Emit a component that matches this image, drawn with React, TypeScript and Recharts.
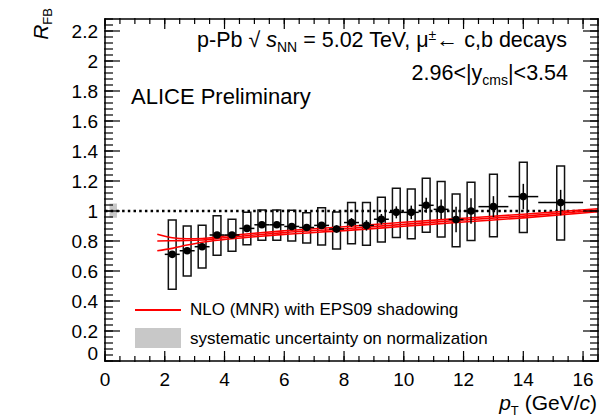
import {
  ComposedChart, ErrorBar, Line, ReferenceArea, ReferenceLine, Scatter, XAxis, YAxis,
} from 'recharts'

const FONT = '"Liberation Sans", Arial, Helvetica, sans-serif'

// measured points: bin centres, half widths, R_FB, stat. error, syst. box edges
const PT = [2.25, 2.75, 3.25, 3.75, 4.25, 4.75, 5.25, 5.75, 6.25, 6.75, 7.25, 7.75, 8.25, 8.75, 9.25, 9.75, 10.25, 10.75, 11.25, 11.75, 12.25, 13, 14, 15.25]
const PT_HALF = [0.25, 0.25, 0.25, 0.25, 0.25, 0.25, 0.25, 0.25, 0.25, 0.25, 0.25, 0.25, 0.25, 0.25, 0.25, 0.25, 0.25, 0.25, 0.25, 0.25, 0.25, 0.5, 0.5, 0.75]
const RFB = [0.711, 0.735, 0.762, 0.84, 0.84, 0.884, 0.908, 0.908, 0.897, 0.89, 0.904, 0.88, 0.923, 0.904, 0.945, 0.991, 0.991, 1.038, 1.011, 0.943, 1.0, 1.029, 1.096, 1.056]
const STAT = [0.01, 0.01, 0.01, 0.01, 0.01, 0.012, 0.012, 0.015, 0.015, 0.02, 0.02, 0.025, 0.03, 0.035, 0.035, 0.04, 0.045, 0.05, 0.065, 0.085, 0.085, 0.07, 0.085, 0.085]
const SYS_LO = [0.478, 0.567, 0.62, 0.705, 0.731, 0.775, 0.805, 0.805, 0.8, 0.787, 0.773, 0.747, 0.782, 0.771, 0.793, 0.824, 0.815, 0.858, 0.827, 0.762, 0.804, 0.829, 0.856, 0.807]
const SYS_HI = [0.94, 0.9, 0.905, 0.969, 0.945, 0.991, 1.006, 1.006, 1.005, 0.989, 1.022, 0.993, 1.056, 1.056, 1.091, 1.151, 1.147, 1.218, 1.196, 1.113, 1.191, 1.245, 1.325, 1.3]
const BOX_HALF = 0.13

// NLO (MNR) + EPS09 band
const TH_PT = [1.75, 2.25, 2.75, 3.25, 4, 5, 6, 8, 10, 12, 14, 16.5]
const TH_UPPER = [0.845, 0.822, 0.815, 0.817, 0.833, 0.852, 0.868, 0.895, 0.925, 0.952, 0.978, 1.015]
const TH_CENTRAL = [0.8, 0.802, 0.803, 0.807, 0.822, 0.84, 0.856, 0.882, 0.911, 0.94, 0.966, 1.005]
const TH_LOWER = [0.735, 0.751, 0.773, 0.792, 0.81, 0.828, 0.844, 0.869, 0.898, 0.927, 0.954, 0.995]

const X_MAJOR = [0, 2, 4, 6, 8, 10, 12, 14, 16]
const Y_MAJOR = [0, 0.2, 0.4, 0.6, 0.8, 1, 1.2, 1.4, 1.6, 1.8, 2, 2.2]
const X_MINOR = Array.from({ length: 34 }, (_, i) => i * 0.5)
const Y_MINOR = Array.from({ length: 58 }, (_, i) => Number((i * 0.04).toFixed(2)))
const X_DOMAIN = [0, 16.5]
const Y_DOMAIN = [0, 2.28]

const points = PT.map((x, i) => ({ x, y: RFB[i], xerr: PT_HALF[i], stat: STAT[i] }))
const theory = TH_PT.map((x, i) => ({ x, upper: TH_UPPER[i], central: TH_CENTRAL[i], lower: TH_LOWER[i] }))

const noLabel = () => ''
const axisStroke = { stroke: '#000', strokeWidth: 1.5 }
const tickStroke = { stroke: '#000', strokeWidth: 1.2 }

function YTick({ x, y, payload }: any) {
  const shift = payload.value === 0 ? -8 : 0
  return (
    <text x={x} y={y + shift} dy="0.355em" textAnchor="end" fontSize={19} fill="#000" fontFamily={FONT}>
      {payload.value}
    </text>
  )
}

export default function App() {
  return (
    <div style={{ position: 'absolute', left: 0, top: 0, width: 600, height: 418, background: '#fff', fontFamily: FONT, color: '#000' }}>
      {/* axes are 1px thick each (0 would hide them), so margins are 2px short of the frame */}
      <ComposedChart width={600} height={418} margin={{ top: 17, right: 0, bottom: 55, left: 103 }}>
        <XAxis xAxisId="x" dataKey="x" type="number" domain={X_DOMAIN} allowDataOverflow ticks={X_MAJOR} interval={0}
          height={1} tickSize={-10} tickMargin={22} axisLine={axisStroke} tickLine={tickStroke}
          tick={{ fontSize: 19, fill: '#000', fontFamily: FONT }} />
        <XAxis xAxisId="xm" dataKey="x" type="number" domain={X_DOMAIN} allowDataOverflow ticks={X_MINOR} interval={0}
          height={1} tickSize={-6} axisLine={false} tickLine={tickStroke} tickFormatter={noLabel} />
        <XAxis xAxisId="xt" orientation="top" dataKey="x" type="number" domain={X_DOMAIN} allowDataOverflow ticks={X_MAJOR} interval={0}
          height={1} tickSize={-10} axisLine={axisStroke} tickLine={tickStroke} tickFormatter={noLabel} />
        <XAxis xAxisId="xtm" orientation="top" dataKey="x" type="number" domain={X_DOMAIN} allowDataOverflow ticks={X_MINOR} interval={0}
          height={1} tickSize={-6} axisLine={false} tickLine={tickStroke} tickFormatter={noLabel} />
        <YAxis yAxisId="y" type="number" domain={Y_DOMAIN} allowDataOverflow ticks={Y_MAJOR} interval={0}
          width={1} tickSize={-15} tickMargin={22} axisLine={axisStroke} tickLine={tickStroke} tick={<YTick />} />
        <YAxis yAxisId="ym" type="number" domain={Y_DOMAIN} allowDataOverflow ticks={Y_MINOR} interval={0}
          width={1} tickSize={-9} axisLine={false} tickLine={tickStroke} tickFormatter={noLabel} />
        <YAxis yAxisId="yr" orientation="right" type="number" domain={Y_DOMAIN} allowDataOverflow ticks={Y_MAJOR} interval={0}
          width={1} tickSize={-15} axisLine={axisStroke} tickLine={tickStroke} tickFormatter={noLabel} />
        <YAxis yAxisId="yrm" orientation="right" type="number" domain={Y_DOMAIN} allowDataOverflow ticks={Y_MINOR} interval={0}
          width={1} tickSize={-9} axisLine={false} tickLine={tickStroke} tickFormatter={noLabel} />

        <ReferenceArea xAxisId="x" yAxisId="y" x1={0.15} x2={0.4} y1={0.955} y2={1.05} fill="#c8c8c8" fillOpacity={1} stroke="none" />
        <ReferenceLine xAxisId="x" yAxisId="y" y={1} stroke="#000" strokeWidth={2.5} strokeDasharray="2.5 3.2" />

        {PT.map((x, i) => (
          <ReferenceArea key={x} xAxisId="x" yAxisId="y" x1={x - BOX_HALF} x2={x + BOX_HALF} y1={SYS_LO[i]} y2={SYS_HI[i]}
            fill="none" stroke="#111" strokeWidth={1.5} />
        ))}

        {['upper', 'central', 'lower'].map(k => (
          <Line key={k} xAxisId="x" yAxisId="y" data={theory} dataKey={k} type="monotone" stroke="#ff0000"
            strokeWidth={1.6} dot={false} activeDot={false} isAnimationActive={false} />
        ))}

        <Scatter xAxisId="x" yAxisId="y" data={points} dataKey="y" isAnimationActive={false}
          shape={(p: any) => <circle cx={p.cx} cy={p.cy} r={3.8} fill="#000" />}>
          <ErrorBar dataKey="xerr" direction="x" width={0} stroke="#000" strokeWidth={1.5} isAnimationActive={false} />
          <ErrorBar dataKey="stat" direction="y" width={0} stroke="#000" strokeWidth={1.5} isAnimationActive={false} />
        </Scatter>
      </ComposedChart>

      {/* axis titles */}
      <div style={{ position: 'absolute', left: 28, top: 68, width: 60, lineHeight: '25px', fontSize: 21, textAlign: 'right', transform: 'rotate(-90deg)', transformOrigin: 'left top', whiteSpace: 'nowrap' }}>
        <i>R</i><span style={{ fontSize: 13, verticalAlign: -4 }}>FB</span>
      </div>
      <div style={{ position: 'absolute', right: 3, top: 391, lineHeight: '24px', fontSize: 21, whiteSpace: 'nowrap' }}>
        <i>p</i><span style={{ fontSize: 13, verticalAlign: -5 }}>T</span> (GeV/<i>c</i>)
      </div>

      {/* annotations */}
      <div style={{ position: 'absolute', right: 33, top: 22, lineHeight: '26px', fontSize: 21.5, whiteSpace: 'nowrap' }}>
        p-Pb √ <i>s</i><span style={{ fontSize: 14, verticalAlign: -5 }}>NN</span> = 5.02 TeV, μ<span style={{ fontSize: 14, verticalAlign: 7 }}>±</span><span style={{ fontSize: 22, lineHeight: '20px' }}>←</span> c,b decays
      </div>
      <div style={{ position: 'absolute', right: 32, top: 60, lineHeight: '26px', fontSize: 21.5, whiteSpace: 'nowrap' }}>
        2.96&lt;|y<span style={{ fontSize: 14, verticalAlign: -5 }}>cms</span>|&lt;3.54
      </div>
      <div style={{ position: 'absolute', left: 131, top: 84, lineHeight: '26px', fontSize: 22, whiteSpace: 'nowrap' }}>
        ALICE Preliminary
      </div>

      {/* legend */}
      <div style={{ position: 'absolute', left: 135, top: 309, width: 46, height: 2, background: '#ff0000' }} />
      <div style={{ position: 'absolute', left: 190, top: 299, lineHeight: '22px', fontSize: 17, whiteSpace: 'nowrap' }}>
        NLO (MNR) with EPS09 shadowing
      </div>
      <div style={{ position: 'absolute', left: 135, top: 328, width: 46, height: 20, background: '#c8c8c8' }} />
      <div style={{ position: 'absolute', left: 190, top: 328, lineHeight: '22px', fontSize: 17, whiteSpace: 'nowrap' }}>
        systematic uncertainty on normalization
      </div>
    </div>
  )
}
